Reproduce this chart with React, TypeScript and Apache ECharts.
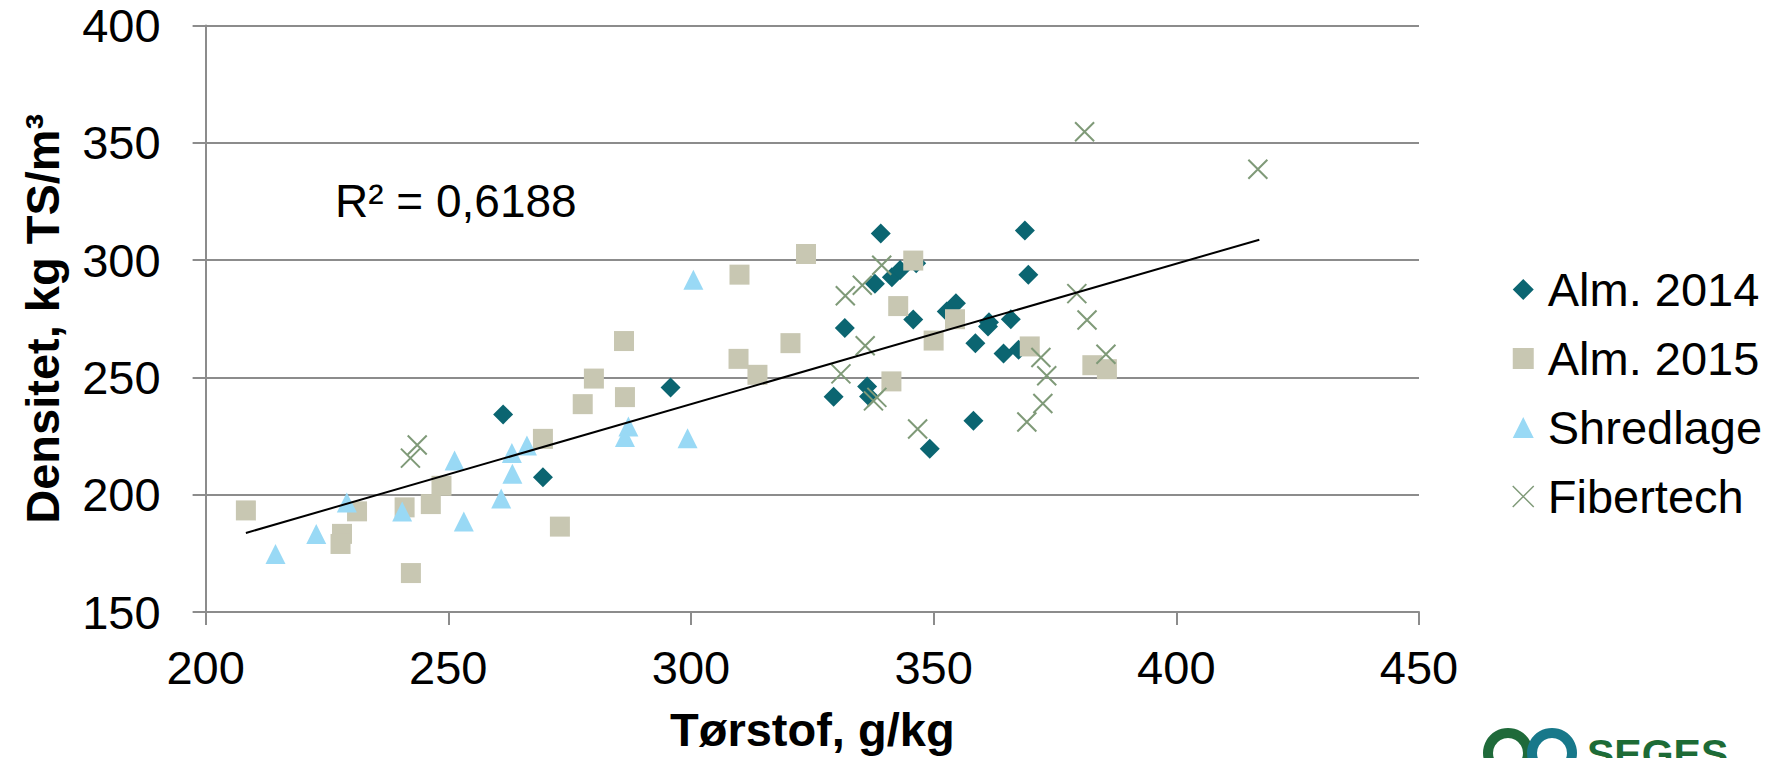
import React, { useEffect, useRef } from "react";
import * as echarts from "echarts";

const xTicks = [200, 250, 300, 350, 400, 450];
const yTicks = [150, 200, 250, 300, 350, 400];

const seriesNames = ["Alm. 2014", "Alm. 2015", "Shredlage", "Fibertech"];

const alm2014X = [261.3, 269.5, 295.8, 329.4, 331.7, 336.3, 336.7, 339.1, 337.9, 341.4, 343.1, 346.4, 345.8, 349.2, 354.6, 352.7, 358.6, 358.2, 361.4, 361.2, 364.4, 365.9, 367.5, 368.8, 369.5];
const alm2014Y = [234.2, 207.4, 245.7, 241.7, 271.1, 246.1, 241.9, 311.3, 289.9, 292.7, 295.8, 298.7, 274.7, 219.6, 281.6, 278.1, 264.6, 231.5, 273.5, 271.7, 260.2, 274.8, 261.8, 312.6, 293.8];

const alm2015X = [208.3, 228.1, 227.8, 231.2, 241.0, 242.3, 246.4, 248.6, 269.5, 273.0, 277.7, 280.0, 286.2, 286.4, 310.0, 309.8, 313.7, 320.5, 323.7, 345.8, 342.7, 341.3, 350.0, 354.4, 369.8, 382.7, 385.7];
const alm2015Y = [193.3, 183.3, 179.0, 192.9, 194.6, 166.6, 196.0, 203.8, 223.8, 186.4, 238.6, 249.5, 265.5, 241.6, 293.8, 257.9, 251.1, 264.6, 302.6, 299.8, 280.4, 248.3, 265.7, 274.8, 263.2, 255.2, 253.5];

const shredX = [214.4, 222.8, 229.1, 240.5, 251.3, 253.2, 260.9, 263.2, 263.1, 266.2, 287.1, 286.4, 299.3, 300.5];
const shredY = [174.7, 183.3, 196.7, 192.8, 214.6, 188.6, 198.4, 208.9, 217.8, 221.0, 229.1, 224.6, 224.1, 291.6];

const fiberX = [242.2, 243.6, 331.8, 335.3, 339.3, 335.9, 330.9, 337.6, 338.3, 346.7, 381.1, 416.8, 379.5, 381.6, 385.5, 372.1, 373.3, 372.5, 369.2];
const fiberY = [215.6, 221.2, 284.8, 289.3, 297.8, 263.5, 251.5, 240.0, 241.5, 228.0, 354.7, 338.7, 285.7, 274.5, 259.9, 258.5, 250.7, 238.9, 231.0];

const trendX = [208.3, 417.1];
const trendY = [183.7, 308.7];

const r2Label = "R² = 0,6188";
const xTitle = "Tørstof, g/kg";
const yTitle = "Densitet, kg TS/m³";

const FONT = "'Liberation Sans', Arial, Helvetica, sans-serif";
const GRID_COLOR = "#8c8c8c";
const COLORS = ["#0b6571", "#c8c7b2", "#99d9f5", "#7f9a78"];

const zip = (xs: number[], ys: number[]) => xs.map((x, i) => [x, ys[i]]);

export default function App() {
  const ref = useRef<HTMLDivElement>(null);

  useEffect(() => {
    if (!ref.current) return;
    const chart = echarts.init(ref.current, null, { renderer: "svg" });
    const crossPath = "path://M0,0L10,10M10,0L0,10";
    const option: any = {
      animation: false,
      backgroundColor: "#ffffff",
      grid: { left: 205.6, right: 348, top: 25.5, bottom: 145.6, containLabel: false },
      xAxis: {
        type: "value",
        min: xTicks[0],
        max: xTicks[xTicks.length - 1],
        interval: 50,
        name: xTitle,
        nameLocation: "middle",
        nameGap: 94,
        nameTextStyle: { fontFamily: FONT, fontSize: 47, fontWeight: "bold", color: "#000" },
        axisLine: { show: true, onZero: false, lineStyle: { color: GRID_COLOR, width: 2 } },
        axisTick: { show: true, length: 13, lineStyle: { color: GRID_COLOR, width: 2 } },
        axisLabel: { fontFamily: FONT, fontSize: 47, color: "#000", margin: 32 },
        splitLine: { show: false },
      },
      yAxis: {
        type: "value",
        min: yTicks[0],
        max: yTicks[yTicks.length - 1],
        interval: 50,
        name: yTitle,
        nameLocation: "middle",
        nameGap: 140,
        nameTextStyle: { fontFamily: FONT, fontSize: 47, fontWeight: "bold", color: "#000" },
        axisLine: { show: true, onZero: false, lineStyle: { color: GRID_COLOR, width: 2 } },
        axisTick: { show: true, length: 13, lineStyle: { color: GRID_COLOR, width: 2 } },
        axisLabel: { fontFamily: FONT, fontSize: 47, color: "#000", margin: 45 },
        splitLine: { show: true, lineStyle: { color: GRID_COLOR, width: 2 } },
      },
      legend: {
        orient: "vertical",
        left: 1507,
        top: 261,
        itemWidth: 21,
        itemHeight: 21,
        itemGap: 22,
        textStyle: { fontFamily: FONT, fontSize: 47, color: "#000", padding: [0, 0, 0, 9] },
        data: [
          { name: seriesNames[0] },
          { name: seriesNames[1] },
          { name: seriesNames[2] },
          { name: seriesNames[3], itemStyle: { borderWidth: 1.5 } },
        ],
      },
      series: [
        {
          name: seriesNames[0],
          type: "scatter",
          symbol: "diamond",
          symbolSize: 20,
          itemStyle: { color: COLORS[0], opacity: 1 },
          data: zip(alm2014X, alm2014Y),
        },
        {
          name: seriesNames[1],
          type: "scatter",
          symbol: "rect",
          symbolSize: 20,
          itemStyle: { color: COLORS[1], opacity: 1 },
          data: zip(alm2015X, alm2015Y),
        },
        {
          name: seriesNames[2],
          type: "scatter",
          symbol: "triangle",
          symbolSize: 20,
          itemStyle: { color: COLORS[2], opacity: 1 },
          data: zip(shredX, shredY),
        },
        {
          name: seriesNames[3],
          type: "scatter",
          symbol: crossPath,
          symbolSize: 19,
          itemStyle: { color: COLORS[3], borderColor: COLORS[3], borderWidth: 2, opacity: 1 },
          data: zip(fiberX, fiberY),
        },
        {
          name: "Trend",
          type: "line",
          symbol: "none",
          silent: true,
          lineStyle: { color: "#000", width: 2 },
          data: zip(trendX, trendY),
          z: 5,
        },
      ],
      graphic: [
        {
          type: "text",
          x: 335,
          y: 200.5,
          style: {
            text: r2Label,
            font: `46px ${FONT}`,
            fill: "#000",
            align: "left",
            verticalAlign: "middle",
          },
        },
        {
          type: "ring",
          shape: { cx: 1508, cy: 753, r: 25, r0: 15 },
          style: { fill: "#1f6a3a" },
        },
        {
          type: "ring",
          shape: { cx: 1552, cy: 753, r: 25, r0: 15 },
          style: { fill: "#17788a" },
        },
        {
          type: "text",
          x: 1587,
          y: 754,
          style: {
            text: "SEGES",
            font: `bold 41px ${FONT}`,
            fill: "#1d6b36",
            align: "left",
            verticalAlign: "middle",
          },
        },
      ],
    };
    chart.setOption(option);
    return () => chart.dispose();
  }, []);

  return (
    <div
      ref={ref}
      style={{ position: "fixed", left: 0, top: 0, width: 1767, height: 758, background: "#fff" }}
    />
  );
}
